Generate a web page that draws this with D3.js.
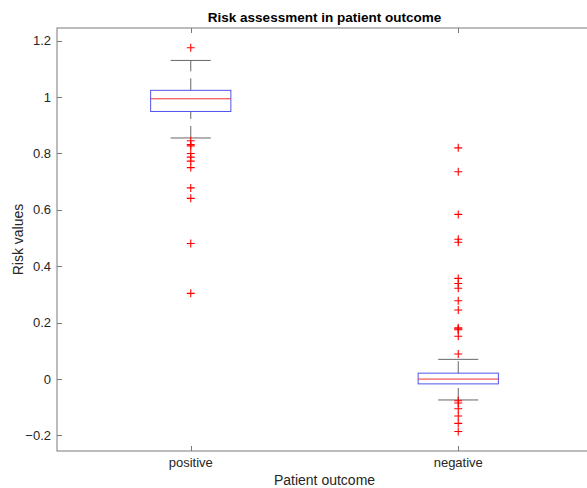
<!DOCTYPE html>
<html>
<head>
<meta charset="utf-8">
<script src="https://cdn.jsdelivr.net/npm/d3@7"></script>
<style>
  html, body { margin: 0; padding: 0; background: #fff; }
  svg { display: block; }
  text { font-family: "Liberation Sans", Arial, Helvetica, sans-serif; }
</style>
</head>
<body>
<div id="chart"></div>
<script>
// ---- data ----
const categories = ["positive", "negative"];
const q1 = [0.949, -0.017];
const medians = [0.994, 0.0];
const q3 = [1.024, 0.021];
const whiskerLow = [0.855, -0.074];
const whiskerHigh = [1.130, 0.070];
const outliersPositive = [1.175, 0.845, 0.832, 0.827, 0.800, 0.787, 0.773, 0.750, 0.678, 0.641, 0.481, 0.304];
const outliersNegative = [0.820, 0.735, 0.584, 0.496, 0.485, 0.357, 0.339, 0.322, 0.278, 0.245,
                          0.182, 0.178, 0.175, 0.152, 0.089,
                          -0.077, -0.085, -0.105, -0.131, -0.157, -0.186];
const outliers = [outliersPositive, outliersNegative];
const yTicks = [-0.2, 0, 0.2, 0.4, 0.6, 0.8, 1, 1.2];
const yDomain = [-0.255, 1.245];
const titleText = "Risk assessment in patient outcome";
const xLabel = "Patient outcome";
const yLabel = "Risk values";

(function () {
// ---- layout ----
const W = 587, H = 488;
const pLeft = 57, pRight = 592, pTop = 28, pBottom = 451;
const boxWidth = 0.3, capWidth = 0.15;

const svg = d3.select("#chart").append("svg").attr("width", W).attr("height", H);

const x = d3.scaleLinear().domain([0.5, categories.length + 0.5]).range([pLeft, pRight]);
const y = d3.scaleLinear().domain(yDomain).range([pBottom, pTop]);

const axisColor = "#7a7a7a";
const textColor = "#262626";
const whiskerColor = "#666";

// boxes
categories.forEach((c, i) => {
  const cx = x(i + 1);
  const g = svg.append("g");
  const bw = x(i + 1 + boxWidth / 2) - x(i + 1);
  const cw = x(i + 1 + capWidth) - x(i + 1);
  // whiskers (dashed, drawn bottom-to-top)
  g.append("line").attr("x1", cx).attr("x2", cx)
    .attr("y1", y(q3[i])).attr("y2", y(whiskerHigh[i]))
    .attr("stroke", whiskerColor).attr("stroke-width", 1).attr("stroke-dasharray", "12,7");
  g.append("line").attr("x1", cx).attr("x2", cx)
    .attr("y1", y(whiskerLow[i])).attr("y2", y(q1[i]))
    .attr("stroke", whiskerColor).attr("stroke-width", 1).attr("stroke-dasharray", "12,7");
  // caps
  [whiskerHigh[i], whiskerLow[i]].forEach(v => {
    g.append("line").attr("x1", cx - cw / 2).attr("x2", cx + cw / 2)
      .attr("y1", y(v)).attr("y2", y(v))
      .attr("stroke", whiskerColor).attr("stroke-width", 1);
  });
  // box
  g.append("rect").attr("x", cx - bw).attr("width", 2 * bw)
    .attr("y", y(q3[i])).attr("height", y(q1[i]) - y(q3[i]))
    .attr("fill", "none").attr("stroke", "#5252ee").attr("stroke-width", 1);
  // median
  g.append("line").attr("x1", cx - bw).attr("x2", cx + bw)
    .attr("y1", y(medians[i])).attr("y2", y(medians[i]))
    .attr("stroke", "#f03030").attr("stroke-width", 1);
  // outliers
  outliers[i].forEach(v => {
    const py = y(v), s = 4;
    g.append("path")
      .attr("d", `M${cx - s},${py}H${cx + s}M${cx},${py - s}V${py + s}`)
      .attr("stroke", "#ff0000").attr("stroke-width", 1.1).attr("fill", "none");
  });
});

// axes frame
const axisG = svg.append("g");
axisG.append("rect").attr("x", pLeft).attr("y", pTop)
  .attr("width", pRight - pLeft).attr("height", pBottom - pTop)
  .attr("fill", "none").attr("stroke", axisColor).attr("stroke-width", 1);

// y axis ticks (inward, left and right)
const tl = 5;
yTicks.forEach(t => {
  const py = Math.round(y(t)) + 0.5;
  axisG.append("line").attr("x1", pLeft).attr("x2", pLeft + tl).attr("y1", py).attr("y2", py)
    .attr("stroke", axisColor);
  axisG.append("line").attr("x1", pRight).attr("x2", pRight - tl).attr("y1", py).attr("y2", py)
    .attr("stroke", axisColor);
  axisG.append("text").attr("x", pLeft - 6).attr("y", y(t)).attr("dy", "0.35em")
    .attr("text-anchor", "end").attr("font-size", 13).attr("fill", textColor)
    .text(d3.format("")(t));
});

// x axis ticks (inward, bottom and top)
categories.forEach((c, i) => {
  const px = Math.round(x(i + 1)) + 0.5;
  axisG.append("line").attr("x1", px).attr("x2", px).attr("y1", pBottom).attr("y2", pBottom - tl)
    .attr("stroke", axisColor);
  axisG.append("line").attr("x1", px).attr("x2", px).attr("y1", pTop).attr("y2", pTop + tl)
    .attr("stroke", axisColor);
  axisG.append("text").attr("x", x(i + 1)).attr("y", 467)
    .attr("text-anchor", "middle").attr("font-size", 13).attr("fill", textColor)
    .text(c);
});

// labels
svg.append("text").attr("x", (pLeft + pRight) / 2).attr("y", 22)
  .attr("text-anchor", "middle").attr("font-size", 13.5).attr("font-weight", "bold")
  .attr("fill", "#000").text(titleText);
svg.append("text").attr("x", (pLeft + pRight) / 2).attr("y", 485)
  .attr("text-anchor", "middle").attr("font-size", 14).attr("fill", textColor).text(xLabel);
svg.append("text").attr("transform", `translate(23,${(pTop + pBottom) / 2}) rotate(-90)`)
  .attr("text-anchor", "middle").attr("font-size", 14).attr("fill", textColor).text(yLabel);
})();
</script>
</body>
</html>
